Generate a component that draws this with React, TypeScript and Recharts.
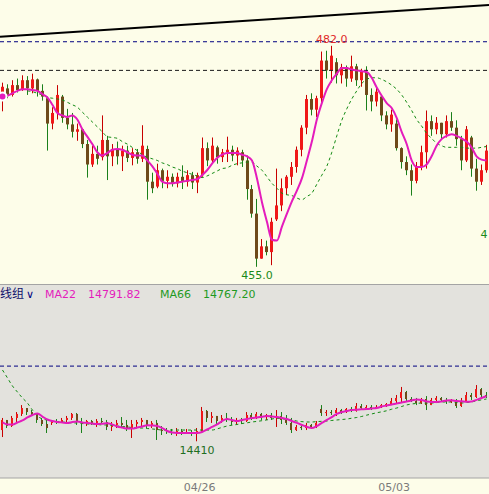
import {
  Bar,
  CartesianGrid,
  ComposedChart,
  Line,
  ReferenceDot,
  ReferenceLine,
  XAxis,
  YAxis,
} from 'recharts';

// top panel: price candles (one per slot)
const topOpen = [
  476.2, 476.8, 476.0, 477.2, 476.6, 477.8, 476.8, 477.9, 476.5, 475.6,
  472.5, 473.8, 475.8, 473.2, 472.4, 471.5, 471.8, 470.0, 467.5, 468.8,
  468.4, 470.5, 468.5, 469.4, 468.5, 469.2, 468.3, 469.0, 468.2, 469.4,
  465.4, 464.8, 466.8, 465.5, 466.0, 465.2, 466.0, 465.4, 466.2, 465.3,
  466.2, 469.5, 468.0, 469.6, 468.4, 469.0, 469.3, 468.6, 469.0, 468.0,
  464.5, 461.5, 456.0, 457.5, 456.8, 460.8, 462.5, 464.6, 466.0, 467.2,
  469.3, 472.0, 475.5, 474.2, 475.6, 480.2, 479.0, 480.0, 478.4, 479.4,
  478.0, 479.5, 477.8, 478.8, 476.0, 475.2, 475.8, 473.5, 472.4, 472.5,
  469.5, 467.8, 466.8, 465.5, 467.2, 469.0, 472.8, 471.8, 472.6, 471.2,
  472.8, 472.0, 470.6, 468.0, 470.8, 467.0, 465.4, 466.8,
];
const topClose = [
  477.0, 476.0, 477.2, 476.6, 477.8, 476.8, 477.9, 476.5, 475.8, 472.5,
  473.8, 476.0, 473.2, 472.4, 471.5, 471.8, 470.0, 467.5, 468.8, 468.2,
  470.5, 468.5, 469.4, 468.5, 469.2, 468.3, 469.0, 468.2, 469.8, 465.4,
  464.6, 466.8, 465.5, 466.0, 465.2, 466.0, 465.4, 466.2, 465.3, 466.2,
  469.5, 468.0, 469.8, 468.4, 469.0, 469.3, 468.6, 469.2, 468.0, 464.5,
  461.5, 456.0, 457.5, 456.8, 460.5, 462.5, 464.6, 466.0, 467.2, 469.3,
  472.0, 475.5, 474.2, 475.6, 480.2, 479.0, 480.8, 478.4, 479.4, 478.0,
  479.5, 477.8, 478.8, 476.0, 475.2, 476.4, 473.5, 472.4, 473.6, 469.5,
  467.8, 466.8, 465.5, 467.2, 469.0, 472.8, 471.8, 472.6, 471.2, 472.8,
  472.0, 470.6, 468.0, 471.8, 467.0, 465.4, 466.8, 469.2,
];
const topHigh = [
  477.5, 477.3, 477.8, 478.0, 478.4, 478.3, 478.6, 478.0, 477.3, 475.8,
  474.5, 477.2, 476.0, 474.3, 473.8, 472.5, 471.8, 470.5, 469.8, 469.8,
  473.5, 471.0, 470.0, 470.3, 469.8, 469.8, 469.5, 469.4, 472.3, 469.8,
  466.5, 467.6, 467.0, 466.8, 466.4, 466.5, 467.4, 466.8, 466.6, 466.5,
  470.8, 470.2, 470.8, 469.8, 469.4, 470.9, 469.8, 469.6, 469.3, 468.6,
  465.0, 463.3, 458.4, 458.2, 461.0, 467.0, 465.8, 466.2, 467.8, 469.7,
  472.3, 476.0, 476.2, 475.9, 481.3, 481.4, 482.0, 480.5, 479.8, 479.6,
  480.8, 479.8, 479.2, 479.5, 476.8, 477.0, 476.0, 474.0, 474.2, 473.0,
  469.6, 468.5, 467.5, 467.8, 469.8, 474.1, 473.5, 473.3, 472.6, 473.5,
  473.9, 472.9, 471.0, 472.2, 471.0, 468.2, 467.5, 469.9,
];
const topLow = [
  474.0, 475.6, 475.8, 476.3, 476.5, 476.0, 476.2, 475.8, 475.3, 469.2,
  471.8, 473.0, 472.6, 471.8, 470.8, 470.4, 469.5, 465.9, 467.2, 467.5,
  468.0, 465.6, 467.3, 467.5, 466.7, 467.8, 467.4, 467.6, 467.8, 463.2,
  464.0, 464.6, 464.6, 464.6, 464.8, 464.7, 464.5, 464.8, 464.5, 464.0,
  466.0, 467.3, 467.6, 467.6, 467.8, 467.8, 467.9, 467.4, 467.2, 463.2,
  461.0, 455.0, 456.0, 456.4, 455.2, 460.6, 461.8, 463.8, 465.0, 466.5,
  468.5, 471.2, 473.5, 473.3, 475.0, 478.0, 477.5, 477.4, 477.4, 477.0,
  477.6, 477.1, 477.0, 474.1, 474.0, 474.6, 472.8, 471.8, 471.5, 469.2,
  467.0, 466.2, 463.7, 465.2, 466.8, 467.0, 471.0, 471.2, 470.5, 470.8,
  471.6, 469.8, 466.8, 467.8, 466.0, 464.3, 465.0, 466.5,
];
const topMa22 = [
  475.8, 475.9, 476.2, 476.5, 476.7, 476.7, 476.6, 476.5, 476.1, 475.7,
  474.8, 473.8, 473.5, 473.3, 473.5, 473.0, 471.8, 470.9, 470.0, 469.0,
  468.6, 468.9, 469.3, 469.4, 469.3, 469.0, 468.7, 468.6, 468.6, 468.0,
  467.3, 466.4, 465.4, 465.2, 465.2, 465.3, 465.4, 465.5, 465.6, 465.7,
  466.2, 466.8, 467.6, 468.3, 468.7, 468.9, 468.9, 468.9, 468.7, 468.5,
  468.0, 465.8, 462.9, 460.5, 458.3, 458.2, 459.9, 461.5, 463.0, 464.3,
  465.8, 468.0, 470.3, 473.0, 475.0, 476.7, 477.8, 478.6, 479.3, 479.3,
  479.1, 479.0, 478.9, 478.8, 478.1, 476.9, 475.9, 475.0, 474.4, 473.2,
  471.5, 470.0, 468.0, 467.2, 467.2, 467.5, 468.5, 469.8, 470.6, 471.0,
  471.2, 471.0, 470.7, 470.3, 469.6, 468.5, 468.1, 468.0,
];
const topMa66 = [
  null, null, null, null, null, 476.5, 476.4, 476.2, 476.0, 475.7,
  475.6, 475.5, 475.4, 475.1, 474.8, 474.5, 473.9, 473.3, 472.7, 472.1,
  471.5, 470.9, 470.8, 470.7, 470.3, 470.0, 469.6, 469.2, 468.7, 468.4,
  468.2, 468.0, 467.7, 467.5, 467.2, 467.0, 466.7, 466.5, 466.3, 466.1,
  465.9, 466.1, 466.4, 466.7, 467.0, 467.1, 467.4, 467.6, 467.7, 467.8,
  467.8, 467.3, 466.8, 466.0, 465.2, 464.6, 464.0, 463.8, 463.7, 463.4,
  463.2, 463.6, 464.0, 465.1, 466.2, 467.3, 469.0, 471.0, 472.9, 474.3,
  475.5, 476.5, 477.4, 477.9, 478.1, 478.1, 477.9, 477.6, 477.2, 476.7,
  476.0, 475.1, 474.1, 473.0, 472.2, 471.3, 470.7, 470.1, 469.8, 469.6,
  469.6, 469.6, 469.6, 469.5, 469.5, 469.5, 469.6, 469.7,
];
const topDomain = [452.9, 487.6];
const topLevels = [482.5, 479.0];
const trendEnds = [483.1, 487.0];
const topMarks = [
  { i: 66, price: 482.0, text: '482.0' },
  { i: 51, price: 455.0, text: '455.0' },
  { i: 97, price: 459.0, text: '4' },
];

// bottom panel: second contract, same time slots
const btmOpen = [
  14505, 14590, 14539, 14607, 14641, 14691, 14657, 14641, 14590, 14556,
  14565, 14581, 14565, 14590, 14607, 14641, 14573, 14556, 14581, 14565,
  14581, 14573, 14531, 14548, 14565, 14548, 14514, 14556, 14573, 14590,
  14548, 14565, 14505, 14497, 14488, 14480, 14497, 14480, 14488, 14472,
  14497, 14666, 14607, 14624, 14581, 14607, 14590, 14573, 14590, 14581,
  14632, 14607, 14641, 14615, 14632, 14607, 14624, 14590, 14565, 14505,
  14531, 14522, 14548, 14531, 14683, 14649, 14657, 14649, 14674, 14657,
  14683, 14666, 14708, 14691, 14700, 14683, 14700, 14716, 14725, 14750,
  14776, 14826, 14767, 14750, 14733, 14767, 14716, 14759, 14776, 14759,
  14742, 14759, 14708, 14750, 14801, 14784, 14851, 14801,
];
const btmClose = [
  14590, 14539, 14607, 14641, 14691, 14657, 14641, 14590, 14556, 14522,
  14581, 14565, 14590, 14607, 14641, 14573, 14556, 14581, 14565, 14581,
  14573, 14531, 14548, 14565, 14548, 14514, 14556, 14573, 14590, 14548,
  14565, 14505, 14497, 14488, 14480, 14497, 14480, 14488, 14472, 14497,
  14666, 14607, 14624, 14581, 14607, 14590, 14573, 14590, 14581, 14632,
  14607, 14641, 14615, 14632, 14607, 14624, 14590, 14565, 14505, 14531,
  14522, 14548, 14531, 14565, 14649, 14657, 14649, 14674, 14657, 14683,
  14666, 14708, 14691, 14700, 14683, 14700, 14716, 14725, 14750, 14776,
  14826, 14767, 14750, 14733, 14767, 14716, 14759, 14776, 14759, 14742,
  14759, 14708, 14750, 14801, 14784, 14851, 14801, 14792,
];
const btmHigh = [
  14607, 14590, 14624, 14657, 14716, 14691, 14674, 14641, 14607, 14590,
  14590, 14598, 14607, 14624, 14649, 14649, 14607, 14590, 14590, 14598,
  14607, 14590, 14573, 14590, 14615, 14590, 14590, 14590, 14607, 14590,
  14581, 14590, 14539, 14522, 14514, 14522, 14514, 14514, 14505, 14522,
  14700, 14674, 14657, 14624, 14632, 14649, 14615, 14607, 14607, 14657,
  14649, 14657, 14649, 14641, 14649, 14674, 14657, 14632, 14607, 14548,
  14556, 14565, 14556, 14581, 14716, 14674, 14674, 14691, 14683, 14691,
  14700, 14733, 14725, 14716, 14716, 14716, 14725, 14733, 14776, 14801,
  14869, 14835, 14784, 14776, 14776, 14792, 14776, 14792, 14784, 14776,
  14767, 14767, 14776, 14826, 14818, 14885, 14860, 14826,
];
const btmLow = [
  14446, 14522, 14531, 14573, 14624, 14632, 14624, 14565, 14539, 14480,
  14548, 14556, 14565, 14573, 14590, 14548, 14480, 14539, 14548, 14531,
  14556, 14505, 14497, 14522, 14522, 14497, 14438, 14531, 14539, 14522,
  14522, 14421, 14463, 14472, 14463, 14455, 14463, 14472, 14455, 14410,
  14488, 14573, 14565, 14556, 14565, 14573, 14548, 14556, 14556, 14573,
  14590, 14598, 14590, 14590, 14590, 14531, 14556, 14548, 14480, 14497,
  14505, 14505, 14514, 14522, 14624, 14624, 14632, 14624, 14641, 14649,
  14657, 14660, 14683, 14674, 14674, 14683, 14691, 14700, 14716, 14733,
  14742, 14750, 14742, 14716, 14725, 14674, 14716, 14733, 14742, 14725,
  14733, 14691, 14700, 14742, 14759, 14776, 14776, 14776,
];
const btmMa22 = [
  14569, 14552, 14552, 14569, 14586, 14611, 14632, 14645, 14619, 14594,
  14581, 14573, 14569, 14565, 14573, 14577, 14569, 14565, 14560, 14556,
  14559, 14563, 14552, 14535, 14526, 14518, 14518, 14526, 14535, 14545,
  14543, 14539, 14522, 14497, 14484, 14480, 14480, 14480, 14480, 14480,
  14488, 14510, 14531, 14552, 14581, 14598, 14590, 14581, 14590, 14598,
  14607, 14611, 14618, 14624, 14619, 14615, 14607, 14598, 14581, 14565,
  14548, 14531, 14522, 14539, 14565, 14590, 14615, 14641, 14657, 14666,
  14674, 14677, 14680, 14683, 14687, 14691, 14704, 14712, 14721, 14729,
  14738, 14746, 14755, 14763, 14759, 14746, 14742, 14742, 14746, 14755,
  14756, 14750, 14748, 14744, 14746, 14760, 14776, 14791.82,
];
const btmMa66 = [
  15012, 14945, 14877, 14826, 14776, 14733, 14674, 14624, 14598, 14590,
  14581, 14577, 14573, 14569, 14565, 14565, 14560, 14556, 14556, 14552,
  14548, 14548, 14543, 14539, 14535, 14531, 14526, 14522, 14522, 14518,
  14514, 14510, 14505, 14505, 14505, 14505, 14505, 14505, 14505, 14505,
  14505, 14505, 14505, 14515, 14527, 14539, 14546, 14552, 14560, 14566,
  14573, 14578, 14584, 14591, 14598, 14605, 14600, 14595, 14590, 14581,
  14576, 14573, 14573, 14576, 14579, 14581, 14586, 14590, 14594, 14598,
  14605, 14611, 14620, 14631, 14641, 14651, 14659, 14668, 14681, 14691,
  14704, 14717, 14725, 14730, 14733, 14733, 14733, 14738, 14742, 14742,
  14742, 14738, 14733, 14738, 14742, 14752, 14760, 14767.2,
];
const btmDomain = [14100, 15730];
const btmLevels = [15045];
const btmMarks = [{ i: 39, price: 14410, text: '14410' }];

const dateTicks = [39.5, 78.5];
const dateLabels = ['04/26', '05/03'];

const W = 489;
const X_DOMAIN = [-0.5, topOpen.length - 0.5];
const PINK = '#e41cbc';
const MA66_GREEN = '#128a12';
const UP_BODY = '#f01818';
const UP_WICK = '#c80000';
const DN_BODY = '#6e4a1a';
const DN_WICK = '#1b801b';
const FONT = '"DejaVu Sans", Verdana, sans-serif';

type Row = {
  i: number;
  open: number;
  high: number;
  low: number;
  close: number;
  ma22: number | null;
  ma66: number | null;
};

const buildRows = (
  o: number[],
  h: number[],
  l: number[],
  c: number[],
  m22: (number | null)[],
  m66: (number | null)[],
): Row[] =>
  o.map((v, i) => ({
    i,
    open: v,
    high: h[i],
    low: l[i],
    close: c[i],
    ma22: m22[i],
    ma66: m66[i],
  }));

const topRows = buildRows(topOpen, topHigh, topLow, topClose, topMa22, topMa66);
const btmRows = buildRows(btmOpen, btmHigh, btmLow, btmClose, btmMa22, btmMa66);

const hiLo = (d: Row) => [d.low, d.high];

function Candle(props: any) {
  const { x, y, width, height } = props;
  const d: Row = props.payload ?? props;
  const span = d.high - d.low;
  const k = span > 0 ? height / span : 0;
  const top = y + (d.high - Math.max(d.open, d.close)) * k;
  const bot = y + (d.high - Math.min(d.open, d.close)) * k;
  const cx = Math.floor(x + width / 2) + 0.5;
  const up = d.close >= d.open;
  return (
    <g>
      <line x1={cx} x2={cx} y1={y} y2={y + height} stroke={up ? UP_WICK : DN_WICK} strokeWidth={1} />
      <rect
        x={Math.round(x)}
        y={top}
        width={Math.max(1, Math.round(width))}
        height={Math.max(1, bot - top)}
        fill={up ? UP_BODY : DN_BODY}
      />
    </g>
  );
}

const markLabel = (text: string, fill: string, position: any, offset: number) => ({
  value: text,
  position,
  offset,
  fill,
  fontSize: 11,
  fontFamily: FONT,
});

function TopPanel() {
  return (
    <ComposedChart width={W} height={284} data={topRows} margin={{ top: 0, right: 0, bottom: 0, left: 0 }}>
      <CartesianGrid horizontal={false} vertical={false} stroke="none" fill="#fdfde9" />
      <XAxis type="number" dataKey="i" domain={X_DOMAIN} hide allowDataOverflow />
      <YAxis type="number" domain={topDomain} hide allowDataOverflow />
      <ReferenceLine y={topLevels[0]} stroke="#000080" strokeDasharray="4 3" />
      <ReferenceLine y={topLevels[1]} stroke="#1a1a1a" strokeDasharray="4 3" />
      <ReferenceLine
        segment={[
          { x: X_DOMAIN[0], y: trendEnds[0] },
          { x: X_DOMAIN[1], y: trendEnds[1] },
        ]}
        stroke="#000"
        strokeWidth={2}
      />
      <Bar dataKey={hiLo} barSize={3} shape={Candle} isAnimationActive={false} />
      <Line
        dataKey="ma66"
        type="monotone"
        stroke={MA66_GREEN}
        strokeWidth={1}
        strokeDasharray="3 3"
        dot={false}
        connectNulls
        isAnimationActive={false}
      />
      <Line dataKey="ma22" type="monotone" stroke={PINK} strokeWidth={2} dot={false} isAnimationActive={false} />
      <ReferenceDot
        x={topMarks[0].i}
        y={topMarks[0].price}
        r={0}
        fill="none"
        stroke="none"
        label={markLabel(topMarks[0].text, '#e02a2a', 'top', 3)}
      />
      <ReferenceDot
        x={topMarks[1].i}
        y={topMarks[1].price}
        r={0}
        fill="none"
        stroke="none"
        label={markLabel(topMarks[1].text, '#1a8a1a', 'bottom', 4)}
      />
      <ReferenceDot
        x={topMarks[2].i}
        y={topMarks[2].price}
        r={0}
        fill="none"
        stroke="none"
        label={markLabel(topMarks[2].text, '#1a8a1a', 'right', -6)}
      />
    </ComposedChart>
  );
}

function BottomPanel() {
  return (
    <ComposedChart width={W} height={209} data={btmRows} margin={{ top: 0, right: 0, bottom: 0, left: 0 }}>
      <CartesianGrid horizontal={false} vertical={false} stroke="none" fill="#e3e2dd" />
      <XAxis
        type="number"
        dataKey="i"
        domain={X_DOMAIN}
        allowDataOverflow
        ticks={dateTicks}
        interval={0}
        tickFormatter={(v: number) => dateLabels[dateTicks.indexOf(v)] ?? ''}
        axisLine={{ stroke: '#a4a4a4' }}
        tickLine={false}
        tickSize={0}
        tickMargin={5}
        height={16}
        tick={{ fill: '#7a7a7a', fontSize: 11, fontFamily: FONT }}
      />
      <YAxis type="number" domain={btmDomain} hide allowDataOverflow />
      <ReferenceLine y={btmLevels[0]} stroke="#000080" strokeDasharray="4 3" />
      <Bar dataKey={hiLo} barSize={2} shape={Candle} isAnimationActive={false} />
      <Line
        dataKey="ma66"
        type="monotone"
        stroke={MA66_GREEN}
        strokeWidth={1}
        strokeDasharray="3 3"
        dot={false}
        isAnimationActive={false}
      />
      <Line dataKey="ma22" type="monotone" stroke={PINK} strokeWidth={2} dot={false} isAnimationActive={false} />
      <ReferenceDot
        x={btmMarks[0].i}
        y={btmMarks[0].price}
        r={0}
        fill="none"
        stroke="none"
        label={markLabel(btmMarks[0].text, '#1f6f1f', 'bottom', 5)}
      />
    </ComposedChart>
  );
}

export default function App() {
  const ma22Last = btmMa22[btmMa22.length - 1].toFixed(2);
  const ma66Last = btmMa66[btmMa66.length - 1].toFixed(2);
  const head = { position: 'absolute' as const, top: 288, lineHeight: '13px', fontSize: 11, whiteSpace: 'nowrap' as const };
  return (
    <div
      style={{
        position: 'relative',
        width: W,
        height: 494,
        overflow: 'hidden',
        background: '#fdfde9',
        fontFamily: FONT,
      }}
    >
      <style>{'body{margin:0}'}</style>
      <TopPanel />
      <div style={{ position: 'absolute', left: 0, top: 284, width: W, height: 1, background: '#a4a4a4' }} />
      <div style={{ position: 'absolute', left: 0, top: 285 }}>
        <BottomPanel />
      </div>
      <span style={{ ...head, left: 0, fontSize: 12, fontFamily: '"Noto Sans CJK SC", sans-serif', color: '#10106a', top: 286 }}>
        线组
      </span>
      <span style={{ ...head, left: 26, color: '#000080' }}>∨</span>
      <span style={{ ...head, left: 45, color: PINK }}>MA22</span>
      <span style={{ ...head, left: 88, color: PINK }}>{ma22Last}</span>
      <span style={{ ...head, left: 160, color: '#1f9a1f' }}>MA66</span>
      <span style={{ ...head, left: 203, color: '#1f9a1f' }}>{ma66Last}</span>
    </div>
  );
}
